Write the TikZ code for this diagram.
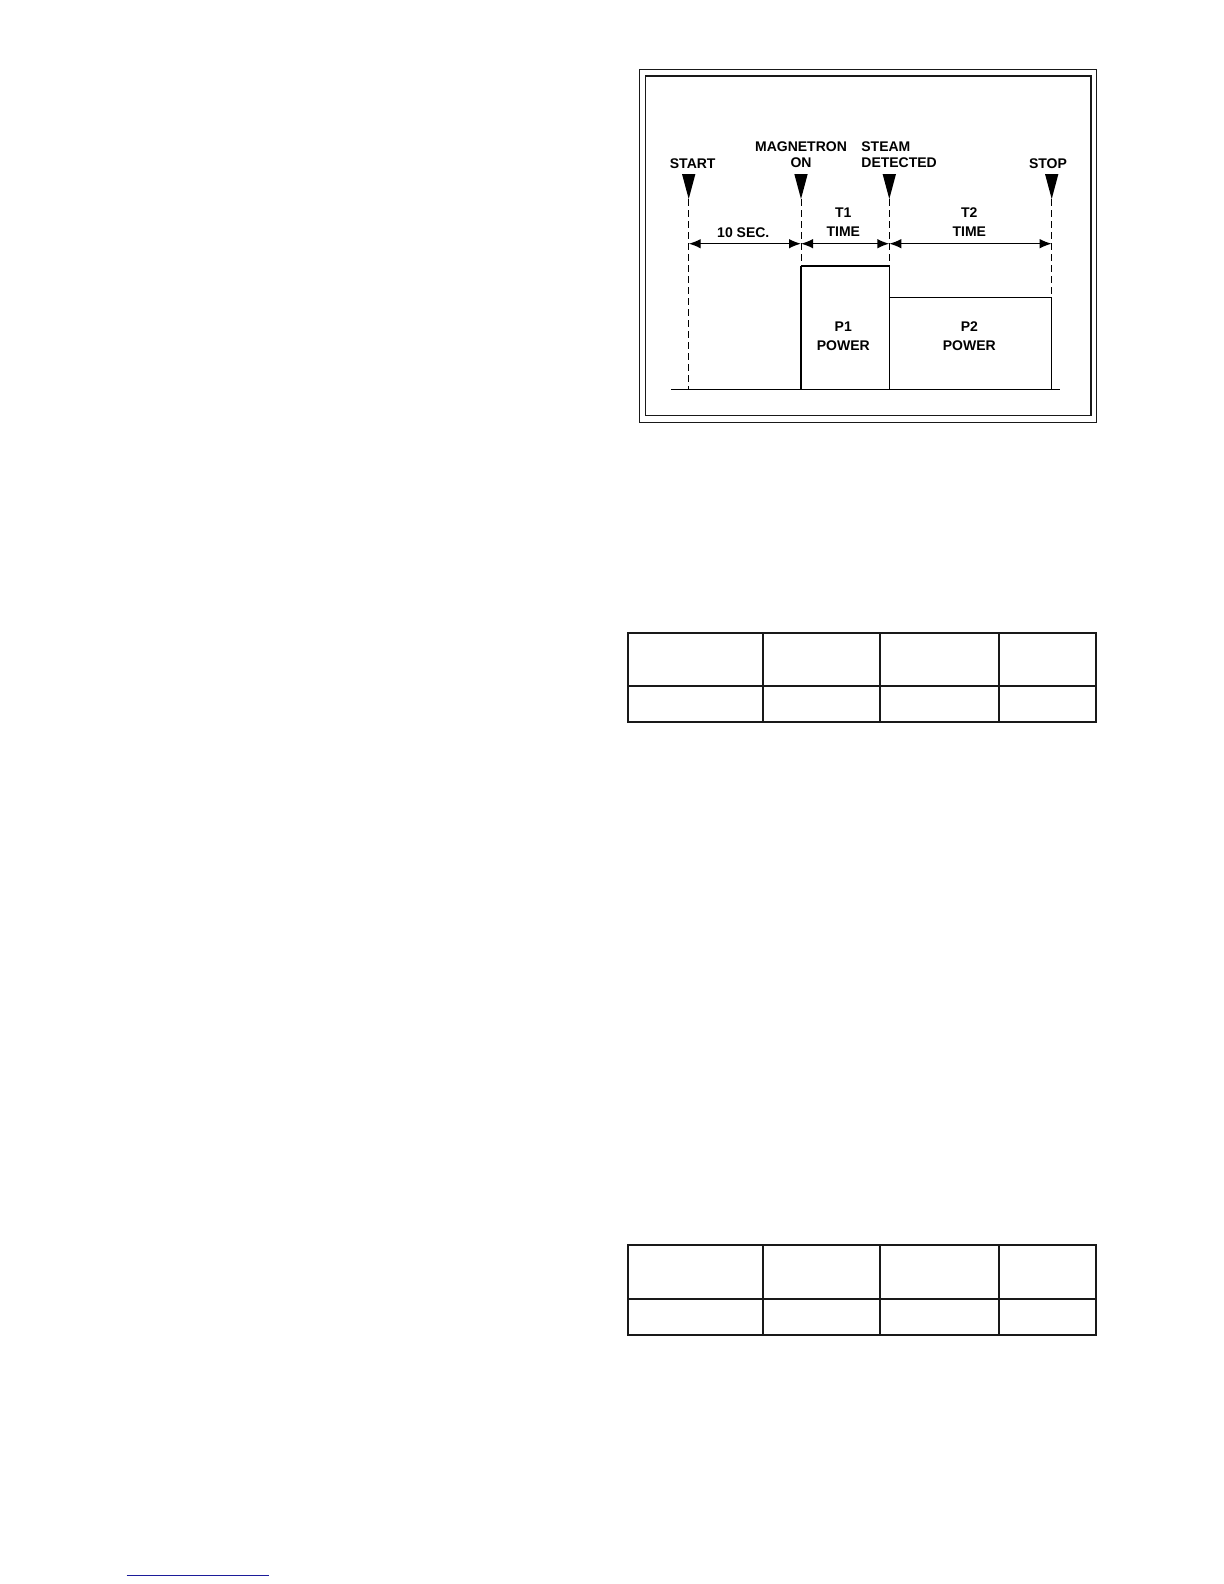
\documentclass[tikz,border=0pt]{standalone}
\usepackage{fontspec}
\setmainfont{Liberation Sans}
\usetikzlibrary{arrows.meta}
\begin{document}
\begin{tikzpicture}[x=0.5pt,y=-0.5pt,
  lbl/.style={font=\fontsize{7}{8}\selectfont\bfseries, inner sep=0pt, anchor=base},
  frameline/.style={line width=0.75pt, draw=black!90},
  evtdash/.style={line width=0.5pt, dash pattern=on 3.5pt off 2pt},
  boxline/.style={line width=0.55pt},
  dimarrow/.style={line width=0.7pt, {Latex[length=6pt,width=4.8pt]}-{Latex[length=6pt,width=4.8pt]}},
  marker/.style={fill=black, draw=none},
  tableline/.style={line width=1pt, draw=black!90}]
\useasboundingbox (0,0) rectangle (1224,1584);
% frames
\draw[frameline] (639.3,69.3) rectangle (1096.7,422.3);
\draw[frameline] (645.3,76) rectangle (1091,415.7);
% event coordinates
\coordinate (startT) at (688.7,199);
\coordinate (magT) at (801,199);
\coordinate (steamT) at (889.3,199);
\coordinate (stopT) at (1051.7,199);
\coordinate (startB) at (688.7,389.3);
\coordinate (magB) at (801,389.3);
\coordinate (steamB) at (889.3,389.3);
\coordinate (stopB) at (1051.7,389.3);
\coordinate (p1L) at (801,266);
\coordinate (p1R) at (889.3,266);
\coordinate (p2L) at (889.3,297.7);
\coordinate (p2R) at (1051.7,297.7);
\coordinate (baseL) at (671,389.3);
\coordinate (baseR) at (1060,389.3);
\coordinate (startA) at (688.7,243.7);
\coordinate (magA) at (801,243.7);
\coordinate (steamA) at (889.3,243.7);
\coordinate (stopA) at (1051.7,243.7);
% markers
\foreach \c in {startT,magT,steamT,stopT}
  \fill[marker] (\c) -- ++(-6.7,-25) -- ++(13.4,0) -- cycle;
% dashed event lines
\draw[evtdash] (startT) -- (startB);
\draw[evtdash] (magT) -- (p1L);
\draw[evtdash] (steamT) -- (p1R);
\draw[evtdash] (stopT) -- (p2R);
% power boxes
\draw[boxline] (magB) -- (p1L);
\draw[line width=0.85pt] (p1L) -- (p1R);
\draw[boxline] (p1R) -- (steamB);
\draw[boxline] (p2L) -- (p2R) -- (stopB);
\draw[line width=0.6pt] (baseL) -- (baseR);
% dimension arrows
\draw[dimarrow] (startA) -- (magA);
\draw[dimarrow] (magA) -- (steamA);
\draw[dimarrow] (steamA) -- (stopA);
% labels
\node[lbl] (lstart) at (692.7,168.3) {START};
\node[lbl] (lmag1) at (801,151.7) {MAGNETRON};
\node[lbl] (lmag2) at (801,167.3) {ON};
\node[lbl, anchor=base west] (lsteam1) at (861,151.7) {STEAM};
\node[lbl, anchor=base west] (lsteam2) at (861,167.3) {DETECTED};
\node[lbl] (lstop) at (1048,168.3) {STOP};
\node[lbl] (l10) at (743.3,237.3) {10 SEC.};
\node[lbl] (lt1a) at (843.3,217.7) {T1};
\node[lbl] (lt1b) at (843.3,236) {TIME};
\node[lbl] (lt2a) at (969.3,217.7) {T2};
\node[lbl] (lt2b) at (969.3,236) {TIME};
\node[lbl] (lp1a) at (843.3,331.7) {P1};
\node[lbl] (lp1b) at (843.3,350) {POWER};
\node[lbl] (lp2a) at (969.3,331.7) {P2};
\node[lbl] (lp2b) at (969.3,350) {POWER};
% table 1
\draw[tableline] (628.3,632.7) rectangle (1096,721.7);
\draw[tableline] (628.3,686) -- (1096,686);
\foreach \xx in {763.3,880,998.7}
  \draw[tableline] (\xx,632.7) -- (\xx,721.7);
% table 2
\draw[tableline] (628.3,1245.3) rectangle (1096,1335);
\draw[tableline] (628.3,1299) -- (1096,1299);
\foreach \xx in {763.3,880,998.7}
  \draw[tableline] (\xx,1245.3) -- (\xx,1335);
% blue rule
\definecolor{navyrule}{HTML}{1C1C9A}
\draw[navyrule, line width=0.7pt] (126.7,1575.3) -- (268.7,1575.3);
\end{tikzpicture}
\end{document}
